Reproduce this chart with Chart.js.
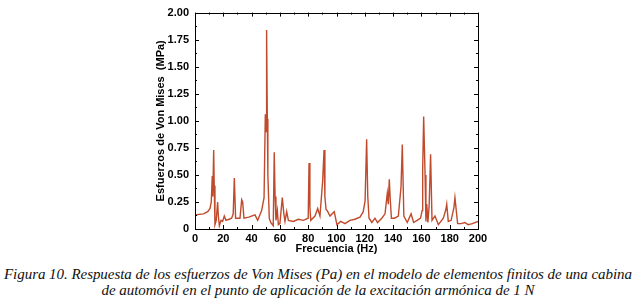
<!DOCTYPE html>
<html>
<head>
<meta charset="utf-8">
<script src="https://cdn.jsdelivr.net/npm/chart.js@4.4.1/dist/chart.umd.min.js"></script>
<style>
html,body{margin:0;padding:0;background:#fff;width:636px;height:302px;overflow:hidden;}
#wrap{position:absolute;left:0;top:0;width:636px;height:258px;}
.cap{position:absolute;left:0;width:636px;text-align:center;white-space:nowrap;
 font-family:"Liberation Serif","DejaVu Serif",serif;font-style:italic;font-size:15px;color:#111;}
#cap1{top:266px;}
#cap2{top:282px;}
</style>
</head>
<body>
<div id="wrap"><canvas id="c" width="636" height="258"></canvas></div>
<div class="cap" id="cap1">Figura 10. Respuesta de los esfuerzos de Von Mises (Pa) en el modelo de elementos finitos de una cabina</div>
<div class="cap" id="cap2">de automóvil en el punto de aplicación de la excitación armónica de 1 N</div>
<script>
const freqHz = [0,3,6,9,10.6,11.5,12.2,12.6,13.2,13.6,14.1,15,16,16.5,17.2,18.4,19.5,20.7,21.9,24,25.9,27,27.8,28.7,30,31.8,33,33.7,34.6,38,42.4,44.3,47.1,48.8,49.7,50.2,50.6,51.1,51.5,52.5,53.5,55.3,56,56.6,57.2,58.2,58.9,60,61.7,62.8,63.6,64.8,66,69.5,73,76.5,80,80.6,81.2,81.8,84.8,86.7,88.3,90.2,91.2,91.8,92.6,93.5,95.4,98.4,100.3,103,106,109.5,113,116.6,118.9,120.2,121.3,122.1,123,125,127.2,129,132,134.3,135.9,136.6,137.3,138,138.8,141,143.7,145.6,146.5,147.6,150,152.7,154.5,157,159.4,160.5,160.9,161.6,162.6,163.2,163.8,164.6,165.5,166.5,167.5,169.6,172,175.5,177.3,177.9,179,181,183,183.7,185.6,188,190.7,193,196,200];
const stressMPa = [0.13,0.135,0.14,0.16,0.19,0.25,0.49,0.3,0.73,0.4,0.04,0.08,0.25,0.12,0.03,0.08,0.07,0.12,0.08,0.09,0.1,0.14,0.47,0.1,0.1,0.1,0.27,0.25,0.1,0.11,0.13,0.08,0.17,0.29,1.06,0.9,1.84,1.02,0.5,0.1,0.06,0.03,0.71,0.3,0.08,0.17,0.04,0.05,0.29,0.14,0.07,0.16,0.08,0.07,0.09,0.08,0.1,0.61,0.2,0.08,0.12,0.19,0.12,0.44,0.73,0.3,0.18,0.17,0.12,0.16,0.04,0.07,0.05,0.08,0.09,0.11,0.16,0.26,0.83,0.3,0.1,0.06,0.1,0.06,0.1,0.14,0.33,0.23,0.46,0.27,0.1,0.1,0.12,0.39,0.78,0.12,0.06,0.14,0.06,0.08,0.1,0.17,0.55,1.04,0.5,0.07,0.23,0.06,0.22,0.69,0.08,0.12,0.04,0.1,0.18,0.23,0.07,0.08,0.2,0.29,0.05,0.05,0.06,0.04,0.05,0.07];
const xTickValues = [0,20,40,60,80,100,120,140,160,180,200];
const yTickLabels = ['0','0.25','0.50','0.75','1.00','1.25','1.50','1.75','2.00'];
const xTitle = 'Frecuencia (Hz)';
const yTitle = 'Esfuerzos de Von Mises  (MPa)';

const points = freqHz.map((f,i)=>({x:f,y:stressMPa[i]}));
const tickFont = {family:'"Liberation Sans", Arial, sans-serif', size:11, weight:'bold'};

const framePlugin = {
  id:'frame',
  afterDraw(chart){
    const {ctx, chartArea:a, scales:{x,y}} = chart;
    ctx.save();
    ctx.strokeStyle='#000'; ctx.lineWidth=1;
    ctx.strokeRect(Math.round(a.left)+0.5, Math.round(a.top)+0.5, Math.round(a.right-a.left), Math.round(a.bottom-a.top));
    ctx.beginPath();
    for(let v=0; v<=200; v+=10){
      const px=Math.round(x.getPixelForValue(v))+0.5;
      const L = (v%20===0)?4:2;
      ctx.moveTo(px,a.bottom); ctx.lineTo(px,a.bottom-L);
      ctx.moveTo(px,a.top); ctx.lineTo(px,a.top+L);
    }
    for(let k=0;k<=16;k++){
      const v=k*0.125;
      const py=Math.round(y.getPixelForValue(v))+0.5;
      const L = (k%2===0)?4:2;
      ctx.moveTo(a.left,py); ctx.lineTo(a.left+L,py);
      ctx.moveTo(a.right,py); ctx.lineTo(a.right-L,py);
    }
    ctx.stroke();
    ctx.restore();
  }
};

new Chart(document.getElementById('c'), {
  type:'line',
  data:{datasets:[{data:points, borderColor:'#c04a2c', borderWidth:1.4, pointRadius:0, tension:0, fill:false}]},
  options:{
    responsive:false, animation:false, devicePixelRatio:1,
    layout:{padding:{left:154,right:158,top:7,bottom:0}},
    plugins:{legend:{display:false}, tooltip:{enabled:false}},
    scales:{
      x:{type:'linear', min:0, max:200,
        grid:{display:false, drawTicks:false}, border:{display:false},
        afterBuildTicks(s){ s.ticks = xTickValues.map(v=>({value:v})); },
        afterFit(s){ s.height = 29; },
        ticks:{font:tickFont, color:'#000', padding:3, maxRotation:0, autoSkip:false, callback:v=>String(v)},
        title:{display:true, text:xTitle, font:tickFont, color:'#000', padding:{top:0,bottom:2}}
      },
      y:{type:'linear', min:0, max:2,
        grid:{display:false, drawTicks:false}, border:{display:false},
        afterBuildTicks(s){ s.ticks = yTickLabels.map((t,i)=>({value:i*0.25})); },
        afterFit(s){ s.width = 41; },
        ticks:{font:tickFont, color:'#000', padding:6, autoSkip:false, callback:(v,i)=>yTickLabels[i]},
        title:{display:true, text:yTitle, font:tickFont, color:'#000', padding:{top:0,bottom:0}}
      }
    }
  },
  plugins:[framePlugin]
});

// fit caption letter-spacing to match reference width
(function(){
  const c1=document.getElementById('cap1'), c2=document.getElementById('cap2');
  const span=document.createElement('span'); span.textContent=c1.textContent;
  span.style.cssText='font-family:inherit;font-style:italic;font-size:15px;';
  c1.textContent=''; c1.appendChild(span);
  const w=span.getBoundingClientRect().width;
  const n=c1.textContent.length;
  const ls=(628-w)/n;
  c1.style.letterSpacing=ls+'px'; c2.style.letterSpacing=ls+'px';
})();
</script>
</body>
</html>
